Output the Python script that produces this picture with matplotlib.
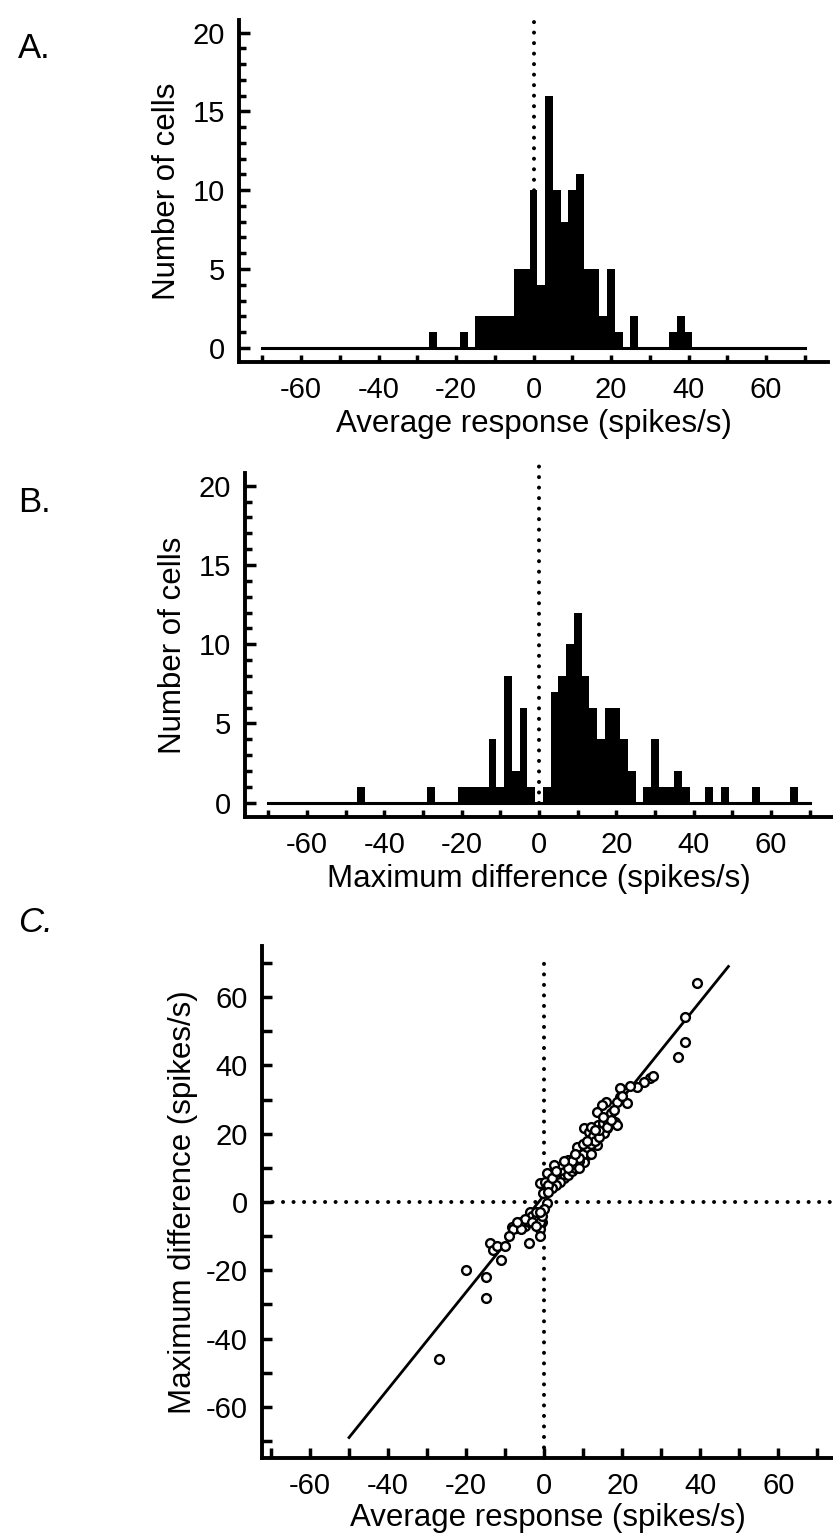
import matplotlib
matplotlib.use('Agg')
import matplotlib.pyplot as plt
from matplotlib.ticker import MultipleLocator

plt.rcParams['font.family'] = ['Liberation Sans', 'DejaVu Sans']
plt.rcParams['axes.unicode_minus'] = False

# Panel A: average response histogram (bin centres, 2 spikes/s bins)
a_centers = [-26, -18, -14, -12, -10, -8, -6, -4, -2, 0, 2, 4, 6, 8, 10, 12,
             14, 16, 18, 20, 22, 26, 36, 38, 40]
a_counts = [1, 1, 2, 2, 2, 2, 2, 5, 5, 10, 4, 16, 10, 8, 10, 11,
            5, 5, 2, 5, 1, 2, 1, 2, 1]

# Panel B: maximum difference histogram
b_centers = [-46, -28, -20, -18, -16, -14, -12, -10, -8, -6, -4, -2, 2, 4, 6,
             8, 10, 12, 14, 16, 18, 20, 22, 24, 28, 30, 32, 34, 36, 38, 44, 48,
             56, 66]
b_counts = [1, 1, 1, 1, 1, 1, 4, 1, 8, 2, 6, 1, 1, 7, 8,
            10, 12, 8, 6, 4, 6, 6, 4, 2, 1, 4, 1, 1, 2, 1, 1, 1,
            1, 1]

# Panel C: average response (x) vs maximum difference (y), one point per cell
c_x = [39.1, 36.2, 36.2, 34.2, 27.0, 25.5, 23.8, 19.3, 19.5, 21.2, 18.6, 15.8,
       14.8, 13.5, 18.2, 18.6, 13.9, 16.1, 15.2, 10.1, 11.4, 12.6, 13.5, 11.4,
       11.0, 9.4, 8.5, 10.1, 7.5, 6.2, 2.4, 0.7, -1.0, 0.3, 4.1, 5.0, 3.2, 6.7,
       -0.2, -1.0, -3.6, -0.6, -4.4, -6.2, -8.3, -7.0, 0.7,
       5, 6, 7, 8, 9, 10, 11, 12, 12, 13, 14, 14, 15, 16, 17, 9, 8, 7, 4, 3,
       2, 1, 6, 10, 11, 12, 16, 17, 20, 22, 28, 1, 2, 5, 3, 8, 9, 13, 15, 18,
       -27, -20, -15, -15, -14, -13, -12, -11, -10, -8, -6, -5, -4, -4, -3,
       -2, -2, -1, -1, -0.5, 0, -5, -3, -2, -1, -6, -7, -9, -1]
c_y = [64.1, 54.3, 47.0, 42.6, 36.4, 35.3, 33.8, 33.4, 30.9, 29.0, 29.4, 29.4,
       28.4, 26.5, 23.5, 22.6, 22.6, 21.7, 20.2, 21.7, 20.6, 19.2, 16.7, 15.2,
       13.7, 15.5, 16.0, 11.8, 10.4, 12.3, 10.9, 8.4, 5.5, 6.0, 7.9, 8.9, 6.5,
       9.4, 2.6, -2.8, -2.8, -5.8, -5.3, -6.2, -7.2, -7.7, -0.4,
       7, 8, 9, 11, 12, 14, 16, 17, 14, 18, 19, 21, 23, 24, 26, 13, 10, 12, 6,
       5, 4, 5, 10, 17, 18, 22, 22, 24, 31, 34, 37, 3, 7, 12, 9, 14, 10, 21,
       25, 27,
       -46, -20, -28, -22, -12, -14, -13, -17, -13, -8, -6, -7, -6, -12, -4,
       -5, -3, -8, -6, -4, -2, -5, -6, -7, -3, -8, -6, -10, -10]
fit_x = [-50, 47.2]
fit_y = [-69, 69]

W, H = 833, 1534
fig = plt.figure(figsize=(W / 100, H / 100), dpi=100)

DOTS = dict(color='black', lw=2.9, linestyle=(0, (0.01, 2.6)),
            dash_capstyle='round', clip_on=False)


def frac(l, r, t, b):
    return [l / W, 1 - b / H, (r - l) / W, (b - t) / H]


def style(ax):
    for s in ['top', 'right']:
        ax.spines[s].set_visible(False)
    for s in ['left', 'bottom']:
        ax.spines[s].set_linewidth(2.8)
    ax.tick_params(which='both', direction='in', width=2.5, labelsize=21,
                   pad=10)
    ax.tick_params(which='major', length=8)
    ax.tick_params(which='minor', length=5)


def hist_panel(rect, centers, counts, xlabel):
    ax = fig.add_axes(rect)
    ax.bar(centers, counts, width=2, color='black', align='center', zorder=3)
    ax.plot([-70, 70], [0, 0], color='black', lw=2.2)
    ax.plot([0, 0], [0, 21.3], **DOTS)
    ax.set_xlim(-76, 76)
    ax.set_ylim(-0.9, 20.8)
    ax.set_xticks(range(-60, 61, 20))
    ax.xaxis.set_minor_locator(MultipleLocator(10))
    ax.set_yticks(range(0, 21, 5))
    ax.yaxis.set_minor_locator(MultipleLocator(1))
    style(ax)
    ax.tick_params(axis='x', which='both', length=5)
    ax.set_xlabel(xlabel, fontsize=22.5, labelpad=4)
    ax.set_ylabel('Number of cells', fontsize=22.5, labelpad=8)
    return ax


axA = hist_panel(frac(239, 828, 20, 362), a_centers, a_counts,
                 'Average response (spikes/s)')
axB = hist_panel(frac(245, 833, 473, 817), b_centers, b_counts,
                 'Maximum difference (spikes/s)')

fig.text(18 / W, 1 - 48 / H, 'A.', fontsize=25, va='center')
fig.text(18 / W, 1 - 502 / H, 'B.', fontsize=25, va='center')
fig.text(18 / W, 1 - 922 / H, 'C.', fontsize=25, va='center',
         style='italic')

axC = fig.add_axes(frac(262, 833, 946, 1458))
axC.plot(fit_x, fit_y, color='black', lw=2)
axC.scatter(c_x, c_y, s=40, facecolors='white', edgecolors='black',
            linewidths=1.7, zorder=3)
axC.plot([0, 0], [-75, 70], **DOTS)
axC.plot([-72.3, 74], [0, 0], **DOTS)
axC.set_xlim(-72.3, 74)
axC.set_ylim(-75, 75)
axC.set_xticks(range(-60, 61, 20))
axC.xaxis.set_minor_locator(MultipleLocator(10))
axC.set_yticks(range(-60, 61, 20))
axC.yaxis.set_minor_locator(MultipleLocator(10))
style(axC)
axC.tick_params(which='both', length=7)
axC.set_xlabel('Average response (spikes/s)', fontsize=22.5, labelpad=2)
axC.set_ylabel('Maximum difference (spikes/s)', fontsize=22.5, labelpad=6)

fig.savefig('out.png', dpi=100, facecolor='white')
